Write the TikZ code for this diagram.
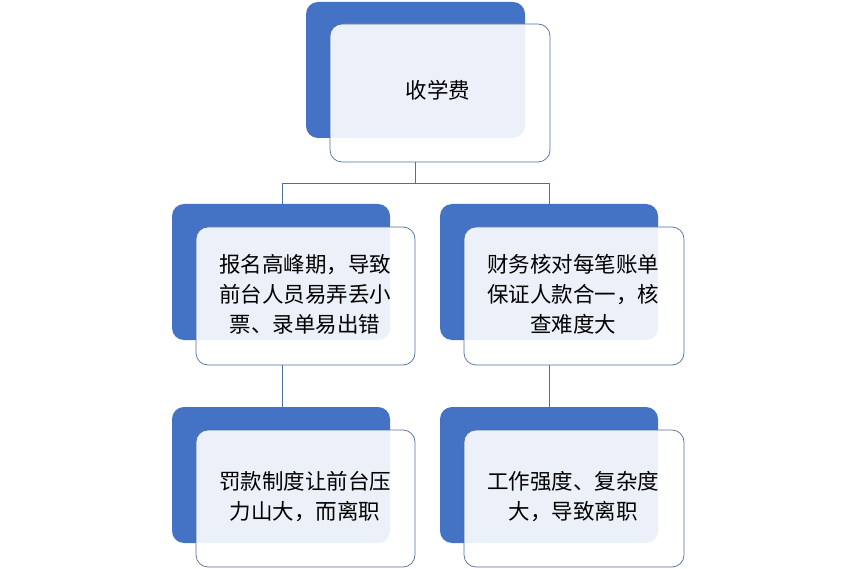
\documentclass[tikz,border=0pt]{standalone}
\usepackage{fontspec}
\setmainfont{Noto Sans CJK SC}
\definecolor{bbl}{RGB}{68,114,196}
\definecolor{edge}{RGB}{80,110,160}
\begin{document}
\begin{tikzpicture}[x=1pt,y=-1pt,
  back/.style={fill=bbl,rounded corners=12pt},
  front/.style={draw=edge,line width=0.7pt,fill=white,fill opacity=0.9,text opacity=1,rounded corners=12pt},
  lbl/.style={font=\fontsize{21.5}{30}\selectfont,align=center},
  conn/.style={draw=edge,line width=0.8pt}]
\useasboundingbox (0,0) rectangle (854,569);
% top
\fill[back] (306,2) rectangle (525,138);
\draw[front] (330,24) rectangle (550,162);
\coordinate (tb) at (415,162);
\node[lbl] (t) at (438,90) {收学费};
% children
\fill[back] (172,204) rectangle (390,340);
\draw[front] (196,227) rectangle (415,365);
\node[lbl] (l1) at (305,294) {报名高峰期，导致\\前台人员易弄丢小\\票、录单易出错};
\fill[back] (440,204) rectangle (658,340);
\draw[front] (464,227) rectangle (684,365);
\node[lbl] (r1) at (573,294) {财务核对每笔账单\\保证人款合一，核\\查难度大};
\fill[back] (172,407) rectangle (390,543);
\draw[front] (196,430) rectangle (415,567);
\node[lbl] (l2) at (305,497) {罚款制度让前台压\\力山大，而离职};
\fill[back] (440,407) rectangle (658,543);
\draw[front] (464,430) rectangle (684,567);
\node[lbl] (r2) at (573,497) {工作强度、复杂度\\大，导致离职};
\coordinate (l1t) at (282,204);
\coordinate (r1t) at (549,204);
\coordinate (l1b) at (282,365);
\coordinate (l2t) at (282,407);
\coordinate (r1b) at (549,365);
\coordinate (r2t) at (549,407);
\draw[conn] (tb) -- (415,183) -| (l1t);
\draw[conn] (415,183) -| (r1t);
\draw[conn] (l1b) -- (l2t);
\draw[conn] (r1b) -- (r2t);
\end{tikzpicture}
\end{document}
